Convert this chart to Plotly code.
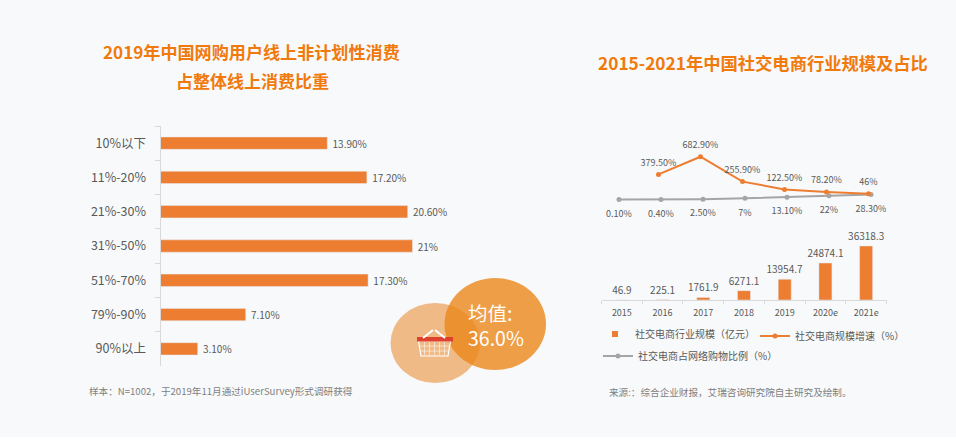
import plotly.graph_objects as go

W, H = 956, 442
FONT = "Noto Sans CJK SC"
ORANGE = "#ED7D31"
GRAY = "#A5A5A5"
TEXT = "#595959"

# left chart
left_categories = ["10%以下", "11%-20%", "21%-30%", "31%-50%", "51%-70%", "79%-90%", "90%以上"]
left_values = [13.9, 17.2, 20.6, 21, 17.3, 7.1, 3.1]
left_labels = ["13.90%", "17.20%", "20.60%", "21%", "17.30%", "7.10%", "3.10%"]

# right chart
years = ["2015", "2016", "2017", "2018", "2019", "2020e", "2021e"]
scale_values = [46.9, 225.1, 1761.9, 6271.1, 13954.7, 24874.1, 36318.3]
scale_labels = ["46.9", "225.1", "1761.9", "6271.1", "13954.7", "24874.1", "36318.3"]
growth_values = [None, 379.5, 682.9, 255.9, 122.5, 78.2, 46]
growth_labels = ["", "379.50%", "682.90%", "255.90%", "122.50%", "78.20%", "46%"]
share_values = [0.1, 0.4, 2.5, 7, 13.1, 22, 28.3]
share_labels = ["0.10%", "0.40%", "2.50%", "7%", "13.10%", "22%", "28.30%"]


def fx(px):
    return px / W


def fy(py):
    return 1 - py / H


fig = go.Figure()

fig.add_trace(go.Bar(
    y=left_categories, x=left_values, orientation="h", text=left_labels, texttemplate="\u00a0%{text}",
    textposition="outside", cliponaxis=False, width=0.36, constraintext="none", textangle=0,
    textfont=dict(size=10, color=TEXT, family=FONT),
    marker=dict(color=ORANGE), showlegend=False, xaxis="x", yaxis="y",
))
fig.add_trace(go.Bar(
    x=years, y=scale_values, text=scale_labels, textposition="outside",
    cliponaxis=False, width=0.32, showlegend=False, constraintext="none", textangle=0,
    name="社交电商行业规模（亿元）",
    textfont=dict(size=10, color=TEXT, family=FONT),
    marker=dict(color=ORANGE), xaxis="x2", yaxis="y2",
))
# legend key for the bars: small square like the reference
fig.add_trace(go.Scatter(
    x=[None], y=[None], mode="markers", name="社交电商行业规模（亿元）",
    marker=dict(color=ORANGE, symbol="square", size=6), xaxis="x2", yaxis="y2", legend="legend",
))
fig.add_trace(go.Scatter(
    x=years, y=growth_values, mode="lines+markers", cliponaxis=False, name="社交电商规模增速（%）",
    line=dict(color=ORANGE, width=2), marker=dict(color=ORANGE, size=5),
    xaxis="x4", yaxis="y3", legend="legend2",
))
fig.add_trace(go.Scatter(
    x=years, y=share_values, mode="lines+markers", cliponaxis=False, name="社交电商占网络购物比例（%）",
    line=dict(color=GRAY, width=2), marker=dict(color=GRAY, size=5),
    xaxis="x3", yaxis="y4", legend="legend3",
))
# data labels, spaced away from the points by a transparent marker
fig.add_trace(go.Scatter(
    x=years, y=growth_values, text=growth_labels, mode="markers+text", textposition="top center",
    cliponaxis=False, showlegend=False, hoverinfo="skip",
    marker=dict(size=9, opacity=0), textfont=dict(size=9, color=TEXT, family=FONT),
    xaxis="x4", yaxis="y3",
))
fig.add_trace(go.Scatter(
    x=years, y=share_values, text=share_labels, mode="markers+text", textposition="bottom center",
    cliponaxis=False, showlegend=False, hoverinfo="skip",
    marker=dict(size=15, opacity=0), textfont=dict(size=9, color=TEXT, family=FONT),
    xaxis="x3", yaxis="y4",
))

shapes = [
    dict(type="rect", xref="paper", yref="paper", layer="below", line_width=0, fillcolor="white",
         x0=0, x1=1, y0=0, y1=fy(437)),
    dict(type="circle", xref="paper", yref="paper", layer="above", line_width=0,
         x0=fx(390.5), x1=fx(480), y0=fy(383), y1=fy(303), fillcolor="rgba(232,140,50,0.58)"),
    dict(type="circle", xref="paper", yref="paper", layer="above", line_width=0,
         x0=fx(444.5), x1=fx(546), y0=fy(370), y1=fy(278), fillcolor="rgba(235,135,25,0.8)"),
    # basket
    dict(type="path", xref="paper", yref="paper", layer="above", line=dict(color="white", width=1.2),
         path=f"M{fx(418.5)},{fy(341)} L{fx(450.5)},{fy(341)} L{fx(448)},{fy(356)} L{fx(421)},{fy(356)} Z"),
    dict(type="rect", xref="paper", yref="paper", layer="above", line_width=0, fillcolor="#E0412F",
         x0=fx(417), x1=fx(453), y0=fy(341.5), y1=fy(337)),
    dict(type="line", xref="paper", yref="paper", layer="above", line=dict(color="white", width=2),
         x0=fx(423), y0=fy(338), x1=fx(433), y1=fy(330)),
    dict(type="line", xref="paper", yref="paper", layer="above", line=dict(color="white", width=2),
         x0=fx(445), y0=fy(338), x1=fx(435), y1=fy(330)),
]
for px in (424.5, 429.5, 434.5, 439.5, 444.5):
    shapes.append(dict(type="line", xref="paper", yref="paper", layer="above",
                       line=dict(color="rgba(255,255,255,0.75)", width=0.7),
                       x0=fx(px), x1=fx(px), y0=fy(342), y1=fy(355)))
for py in (346, 351):
    shapes.append(dict(type="line", xref="paper", yref="paper", layer="above",
                       line=dict(color="rgba(255,255,255,0.75)", width=0.7),
                       x0=fx(420), x1=fx(449), y0=fy(py), y1=fy(py)))


def note(text, px, py, size, color, anchor="center", align="center"):
    return dict(text=text, x=fx(px), y=fy(py), xref="paper", yref="paper", showarrow=False,
                xanchor=anchor, yanchor="middle", align=align,
                font=dict(size=size, color=color, family=FONT))


def legend_at(px, py):
    return dict(x=fx(px), y=fy(py), xanchor="left", yanchor="middle", bgcolor="rgba(0,0,0,0)",
                font=dict(size=10, color=TEXT, family=FONT))


TITLE = "#F07A0C"
annotations = [
    note("<b>2019年中国网购用户线上非计划性消费</b>", 251.5, 51, 17.1, TITLE),
    note("<b>占整体线上消费比重</b>", 252, 80, 17, TITLE),
    note("<b>2015-2021年中国社交电商行业规模及占比</b>", 763, 63, 17.3, TITLE),
    note("样本：N=1002，于2019年11月通过iUserSurvey形式调研获得", 87, 391, 9.6, "#7F7F7F", "left"),
    note("来源:：综合企业财报，艾瑞咨询研究院自主研究及绘制。", 607, 392, 9.6, "#7F7F7F", "left"),
    note("均值:<br>36.0%", 466, 325, 19.5, "white", "left", "left"),
]

axis_line = "#D9D9D9"
fig.update_layout(
    width=W, height=H, autosize=False, margin=dict(l=0, r=0, t=0, b=0),
    paper_bgcolor="#F8F9FA", plot_bgcolor="rgba(0,0,0,0)",
    font=dict(family=FONT, color=TEXT), barmode="overlay",
    shapes=shapes, annotations=annotations,
    xaxis=dict(domain=[fx(160.5), fx(460.5)], range=[0, 25], visible=False),
    yaxis=dict(domain=[fy(366), fy(126)], autorange="reversed", type="category",
               showline=True, linecolor=axis_line, linewidth=1, ticks="outside",
               tickson="boundaries", ticklen=5, tickcolor=axis_line,
               tickfont=dict(size=12.5, color=TEXT, family=FONT), ticklabelstandoff=11, showgrid=False),
    xaxis2=dict(domain=[fx(601.5), fx(886.5)], anchor="y2", type="category", showline=True,
                linecolor=axis_line, linewidth=1, ticks="outside", tickson="boundaries",
                ticklen=3, tickcolor=axis_line, tickfont=dict(size=9, color=TEXT, family=FONT),
                ticklabelstandoff=4, showgrid=False),
    yaxis2=dict(domain=[fy(300), fy(240.5)], range=[0, 40000], visible=False, anchor="x2"),
    xaxis3=dict(domain=[fx(598), fx(892)], type="category", range=[-0.5, 6.5], visible=False, anchor="y4"),
    xaxis4=dict(domain=[fx(595.5), fx(889.5)], type="category", range=[-0.5, 6.5], visible=False, anchor="y3"),
    yaxis3=dict(domain=[fy(200.5), fy(150.5)], range=[-68, 790], visible=False, anchor="x4"),
    yaxis4=dict(domain=[fy(203), fy(190)], range=[-19, 54], visible=False, anchor="x3"),
    legend=legend_at(595, 334),
    legend2=legend_at(755, 336),
    legend3=legend_at(598, 356),
)

fig.write_html("out.html", config={"displayModeBar": False},
               post_script="document.body.style.margin='0';")
